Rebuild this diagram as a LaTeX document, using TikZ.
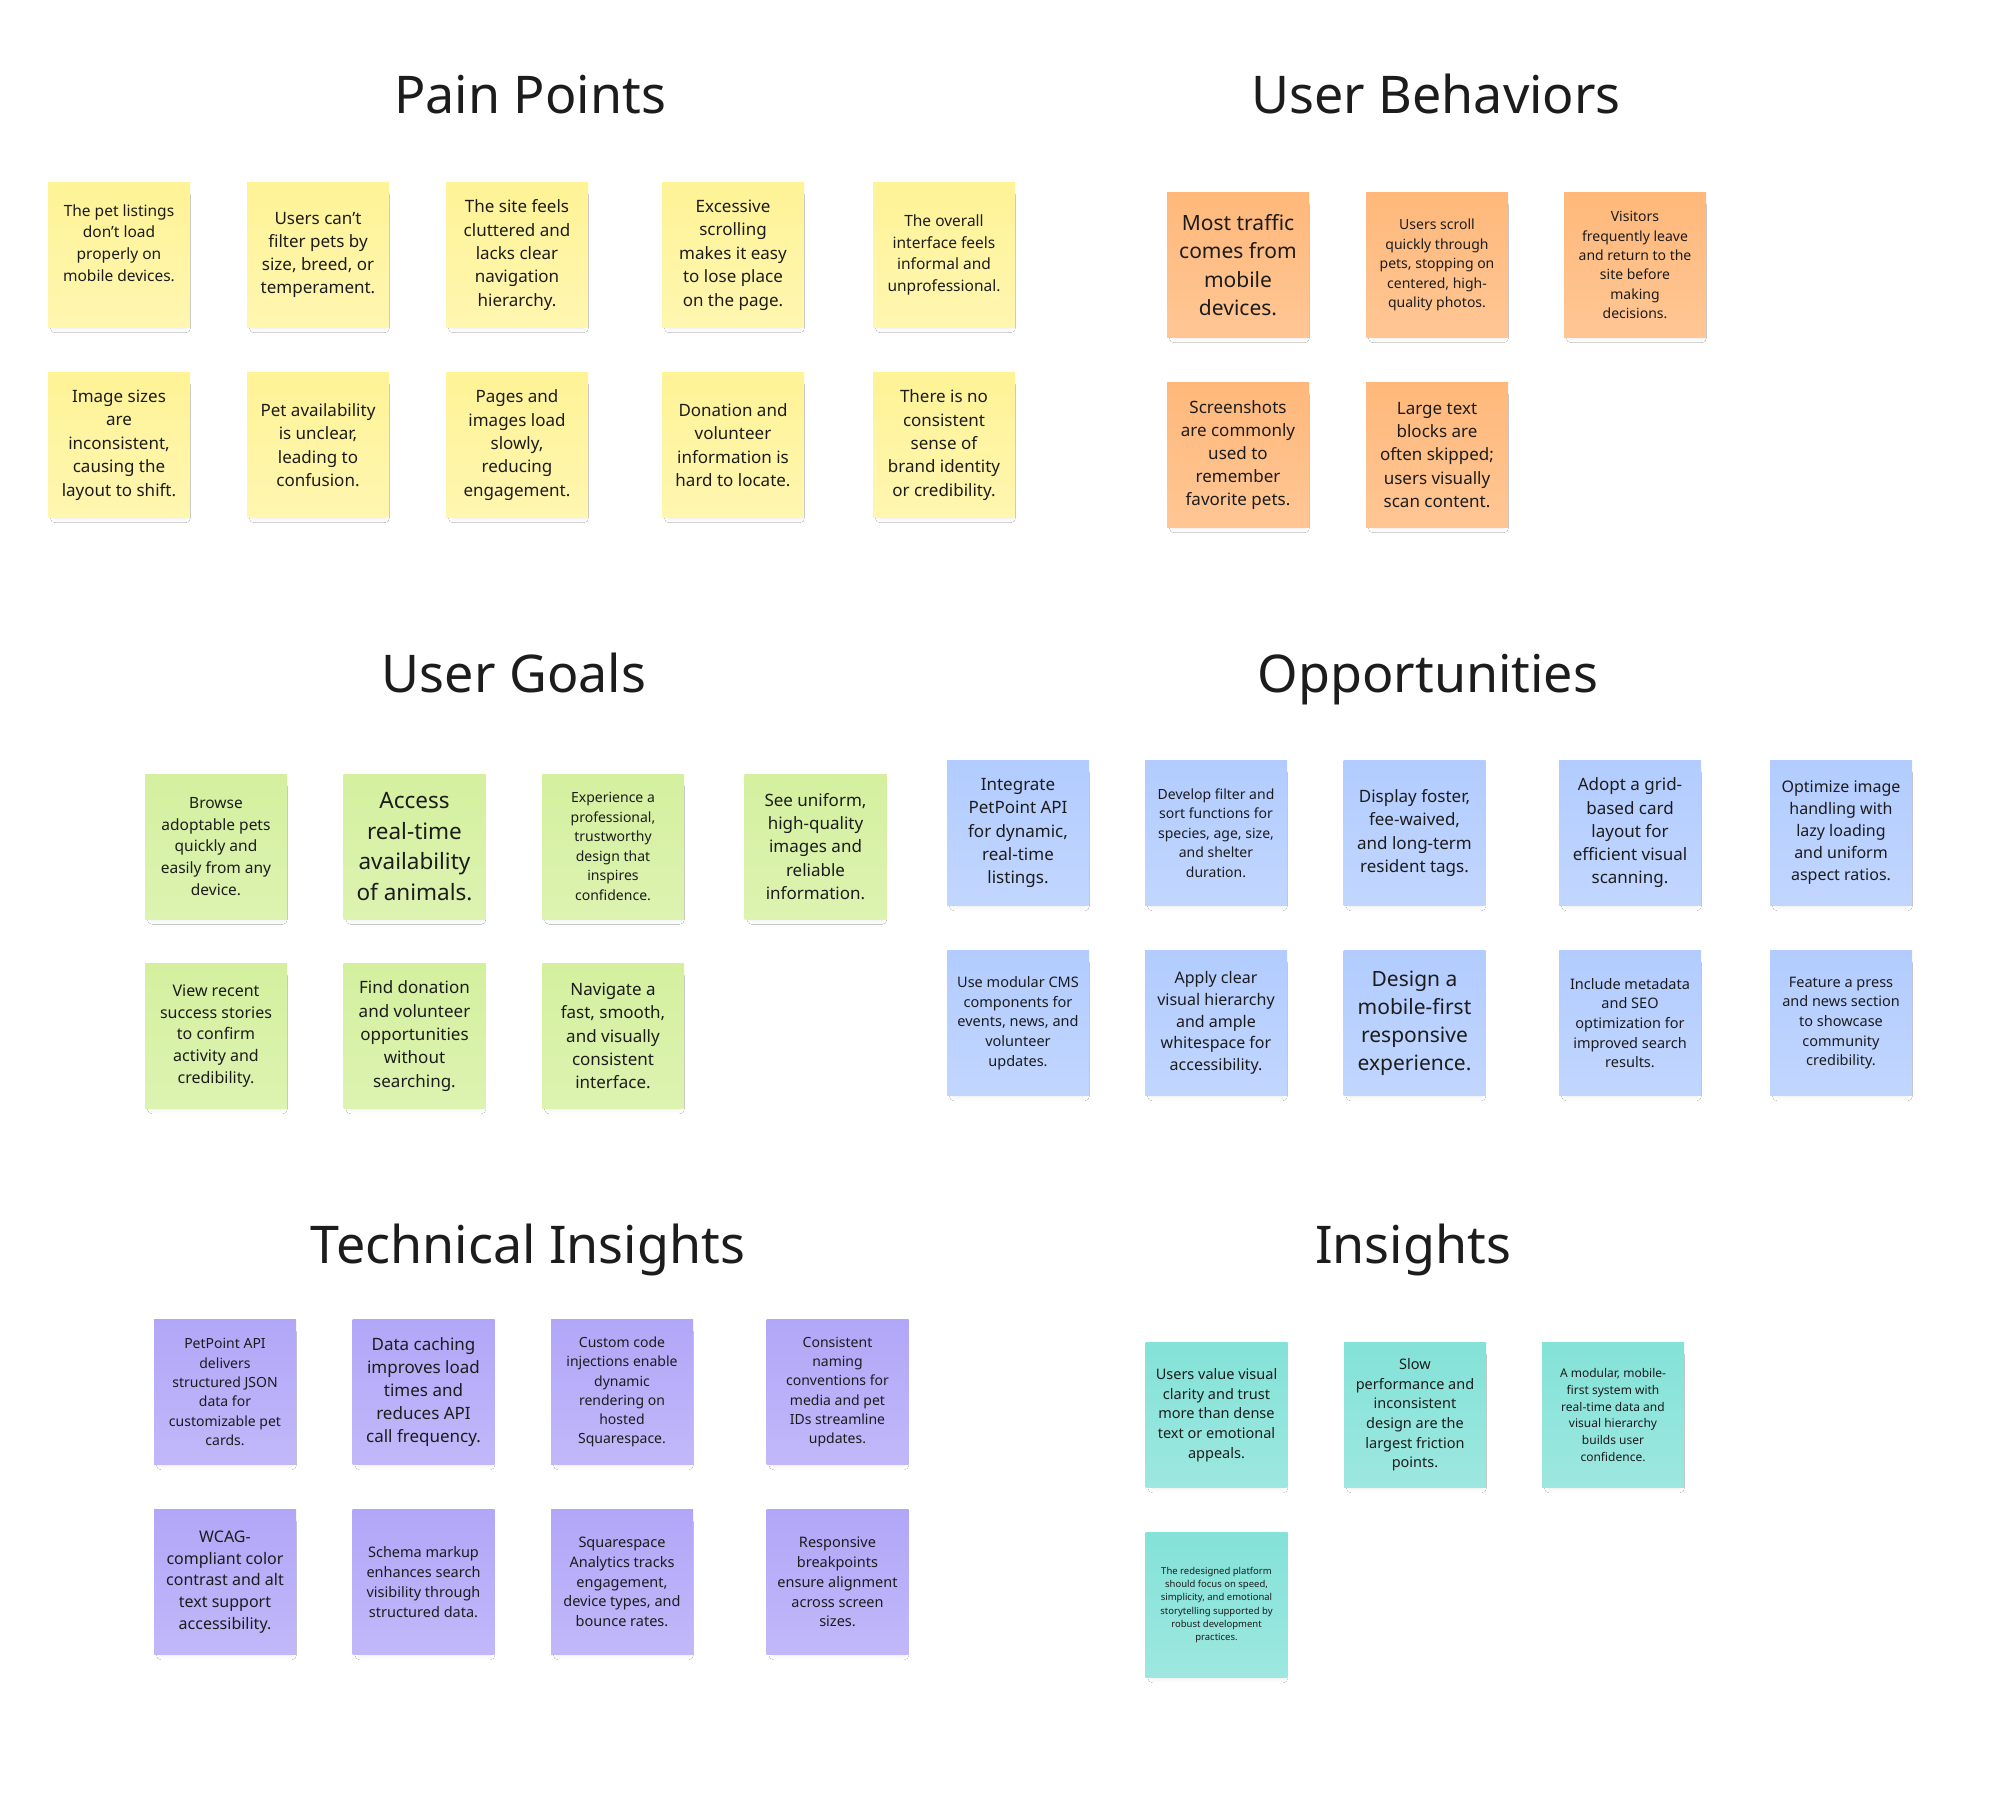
\documentclass[tikz,border=0pt]{standalone}
\usepackage{fontspec}
\setmainfont{Noto Sans}
\usepackage{tikz}
\usetikzlibrary{shadows.blur}
\definecolor{inkDark}{RGB}{28,28,28}
\definecolor{noteYellow}{RGB}{255,243,150}
\definecolor{noteOrange}{RGB}{255,184,122}
\definecolor{noteGreen}{RGB}{212,240,158}
\definecolor{noteBlue}{RGB}{178,204,255}
\definecolor{notePurple}{RGB}{178,166,248}
\definecolor{noteTeal}{RGB}{132,226,216}
\tikzset{
  sticky/.style={minimum width=142pt, minimum height=145pt, inner sep=0pt,
    align=center, text=inkDark,
    blur shadow={shadow xshift=1.5pt, shadow yshift=-7pt, shadow scale=0.92,
      shadow blur radius=5pt, shadow blur steps=10, shadow opacity=9}},
  pain/.style={sticky, top color=noteYellow, bottom color=noteYellow!75!white},
  habit/.style={sticky, top color=noteOrange, bottom color=noteOrange!80!white},
  goal/.style={sticky, top color=noteGreen, bottom color=noteGreen!80!white},
  chance/.style={sticky, top color=noteBlue, bottom color=noteBlue!80!white},
  tech/.style={sticky, top color=notePurple, bottom color=notePurple!80!white},
  finding/.style={sticky, top color=noteTeal, bottom color=noteTeal!80!white},
  fs/.style 2 args={font=\fontsize{#1}{#2}\selectfont},
  heading/.style={font=\fontsize{52}{62}\selectfont, text=inkDark, anchor=base}
}
\begin{document}
\begin{tikzpicture}[x=1pt, y=-1pt]
  \useasboundingbox (0,0) rectangle (2014,1798);
  \fill[white] (0,0) rectangle (2014,1798);
  % Headings
  \node[heading] (tpain) at (530,113.5) {Pain Points};
  \node[heading] (thabit) at (1436,113.5) {User Behaviors};
  \node[heading] (tgoal) at (514,692.5) {User Goals};
  \node[heading] (tchance) at (1428,692.5) {Opportunities};
  \node[heading] (ttech) at (528,1263) {Technical Insights};
  \node[heading] (tfind) at (1413,1263) {Insights};
  % Pain points
  \node[pain] (pp1) at (119,255) {};
  \node[align=center, text=inkDark, fs={15.5}{21.8}] (pp1t) at (119,243) {The pet listings\\don’t load\\properly on\\mobile devices.};
  \node[pain, fs={17}{23.2}] (pp2) at (318,255) {Users can’t\\filter pets by\\size, breed, or\\temperament.};
  \node[pain, fs={17}{23.4}] (pp3) at (517,255) {The site feels\\cluttered and\\lacks clear\\navigation\\hierarchy.};
  \node[pain, fs={17}{23.4}] (pp4) at (733,255) {Excessive\\scrolling\\makes it easy\\to lose place\\on the page.};
  \node[pain, fs={15.5}{21.4}] (pp5) at (944,255) {The overall\\interface feels\\informal and\\unprofessional.};
  \node[pain, fs={17}{23.4}] (pp6) at (119,445) {Image sizes\\are\\inconsistent,\\causing the\\layout to shift.};
  \node[pain, fs={17}{23.4}] (pp7) at (318,445) {Pet availability\\is unclear,\\leading to\\confusion.};
  \node[pain, fs={17}{23.4}] (pp8) at (517,445) {Pages and\\images load\\slowly,\\reducing\\engagement.};
  \node[pain, fs={17}{23.4}] (pp9) at (733,445) {Donation and\\volunteer\\information is\\hard to locate.};
  \node[pain, fs={17}{23.4}] (pp10) at (944,445) {There is no\\consistent\\sense of\\brand identity\\or credibility.};
  % User behaviors
  \node[habit, fs={21}{28.3}] (ub1) at (1238,265) {Most traffic\\comes from\\mobile\\devices.};
  \node[habit, fs={14}{19.6}] (ub2) at (1437,265) {Users scroll\\quickly through\\pets, stopping on\\centered, high-\\quality photos.};
  \node[habit, fs={14}{19.3}] (ub3) at (1635,265) {Visitors\\frequently leave\\and return to the\\site before\\making\\decisions.};
  \node[habit, fs={17}{23.1}] (ub4) at (1238,455) {Screenshots\\are commonly\\used to\\remember\\favorite pets.};
  \node[habit, fs={17}{23.1}] (ub5) at (1437,455) {Large text\\blocks are\\often skipped;\\users visually\\scan content.};
  % User goals
  \node[goal, fs={15.5}{21.8}] (ug1) at (216,846.5) {Browse\\adoptable pets\\quickly and\\easily from any\\device.};
  \node[goal, fs={22.5}{30.4}] (ug2) at (414.5,846.5) {Access\\real-time\\availability\\of animals.};
  \node[goal, fs={14}{19.5}] (ug3) at (613,846.5) {Experience a\\professional,\\trustworthy\\design that\\inspires\\confidence.};
  \node[goal, fs={17}{23.3}] (ug4) at (815.5,846.5) {See uniform,\\high-quality\\images and\\reliable\\information.};
  \node[goal, fs={16}{21.8}] (ug5) at (216,1036) {View recent\\success stories\\to confirm\\activity and\\credibility.};
  \node[goal, fs={17}{23.3}] (ug6) at (414.5,1036) {Find donation\\and volunteer\\opportunities\\without\\searching.};
  \node[goal, fs={17}{23.3}] (ug7) at (613,1036) {Navigate a\\fast, smooth,\\and visually\\consistent\\interface.};
  % Opportunities
  \node[chance, fs={17}{23.25}] (op1) at (1018,833) {Integrate\\PetPoint API\\for dynamic,\\real-time\\listings.};
  \node[chance, fs={14}{19.4}] (op2) at (1216,833) {Develop filter and\\sort functions for\\species, age, size,\\and shelter\\duration.};
  \node[chance, fs={17}{23.2}] (op3) at (1414.5,833) {Display foster,\\fee-waived,\\and long-term\\resident tags.};
  \node[chance, fs={17}{23.25}] (op4) at (1630,833) {Adopt a grid-\\based card\\layout for\\efficient visual\\scanning.};
  \node[chance, fs={16}{22}] (op5) at (1841,833) {Optimize image\\handling with\\lazy loading\\and uniform\\aspect ratios.};
  \node[chance, fs={14.5}{19.75}] (op6) at (1018,1023) {Use modular CMS\\components for\\events, news, and\\volunteer\\updates.};
  \node[chance, fs={16}{21.7}] (op7) at (1216,1023) {Apply clear\\visual hierarchy\\and ample\\whitespace for\\accessibility.};
  \node[chance, fs={21}{28}] (op8) at (1414.5,1023) {Design a\\mobile-first\\responsive\\experience.};
  \node[chance, fs={14.5}{19.7}] (op9) at (1630,1023) {Include metadata\\and SEO\\optimization for\\improved search\\results.};
  \node[chance, fs={14.5}{19.7}] (op10) at (1841,1023) {Feature a press\\and news section\\to showcase\\community\\credibility.};
  % Technical insights
  \node[tech, fs={14}{19.3}] (ti1) at (225,1392) {PetPoint API\\delivers\\structured JSON\\data for\\customizable pet\\cards.};
  \node[tech, fs={17}{23.2}] (ti2) at (423.5,1392) {Data caching\\improves load\\times and\\reduces API\\call frequency.};
  \node[tech, fs={14}{19.3}] (ti3) at (622,1392) {Custom code\\injections enable\\dynamic\\rendering on\\hosted\\Squarespace.};
  \node[tech, fs={14}{19.3}] (ti4) at (837.5,1392) {Consistent\\naming\\conventions for\\media and pet\\IDs streamline\\updates.};
  \node[tech, fs={16}{21.7}] (ti5) at (225,1582) {WCAG-\\compliant color\\contrast and alt\\text support\\accessibility.};
  \node[tech, fs={14.5}{19.8}] (ti6) at (423.5,1582) {Schema markup\\enhances search\\visibility through\\structured data.};
  \node[tech, fs={14.5}{19.75}] (ti7) at (622,1582) {Squarespace\\Analytics tracks\\engagement,\\device types, and\\bounce rates.};
  \node[tech, fs={14.5}{19.75}] (ti8) at (837.5,1582) {Responsive\\breakpoints\\ensure alignment\\across screen\\sizes.};
  % Insights
  \node[finding, fs={14.5}{19.7}] (in1) at (1216.5,1415) {Users value visual\\clarity and trust\\more than dense\\text or emotional\\appeals.};
  \node[finding, fs={14.5}{19.6}] (in2) at (1415,1415) {Slow\\performance and\\inconsistent\\design are the\\largest friction\\points.};
  \node[finding, fs={12}{16.9}] (in3) at (1613,1415) {A modular, mobile-\\first system with\\real-time data and\\visual hierarchy\\builds user\\confidence.};
  \node[finding, fs={9.5}{13.2}] (in4) at (1216.5,1605) {The redesigned platform\\should focus on speed,\\simplicity, and emotional\\storytelling supported by\\robust development\\practices.};
\end{tikzpicture}
\end{document}
